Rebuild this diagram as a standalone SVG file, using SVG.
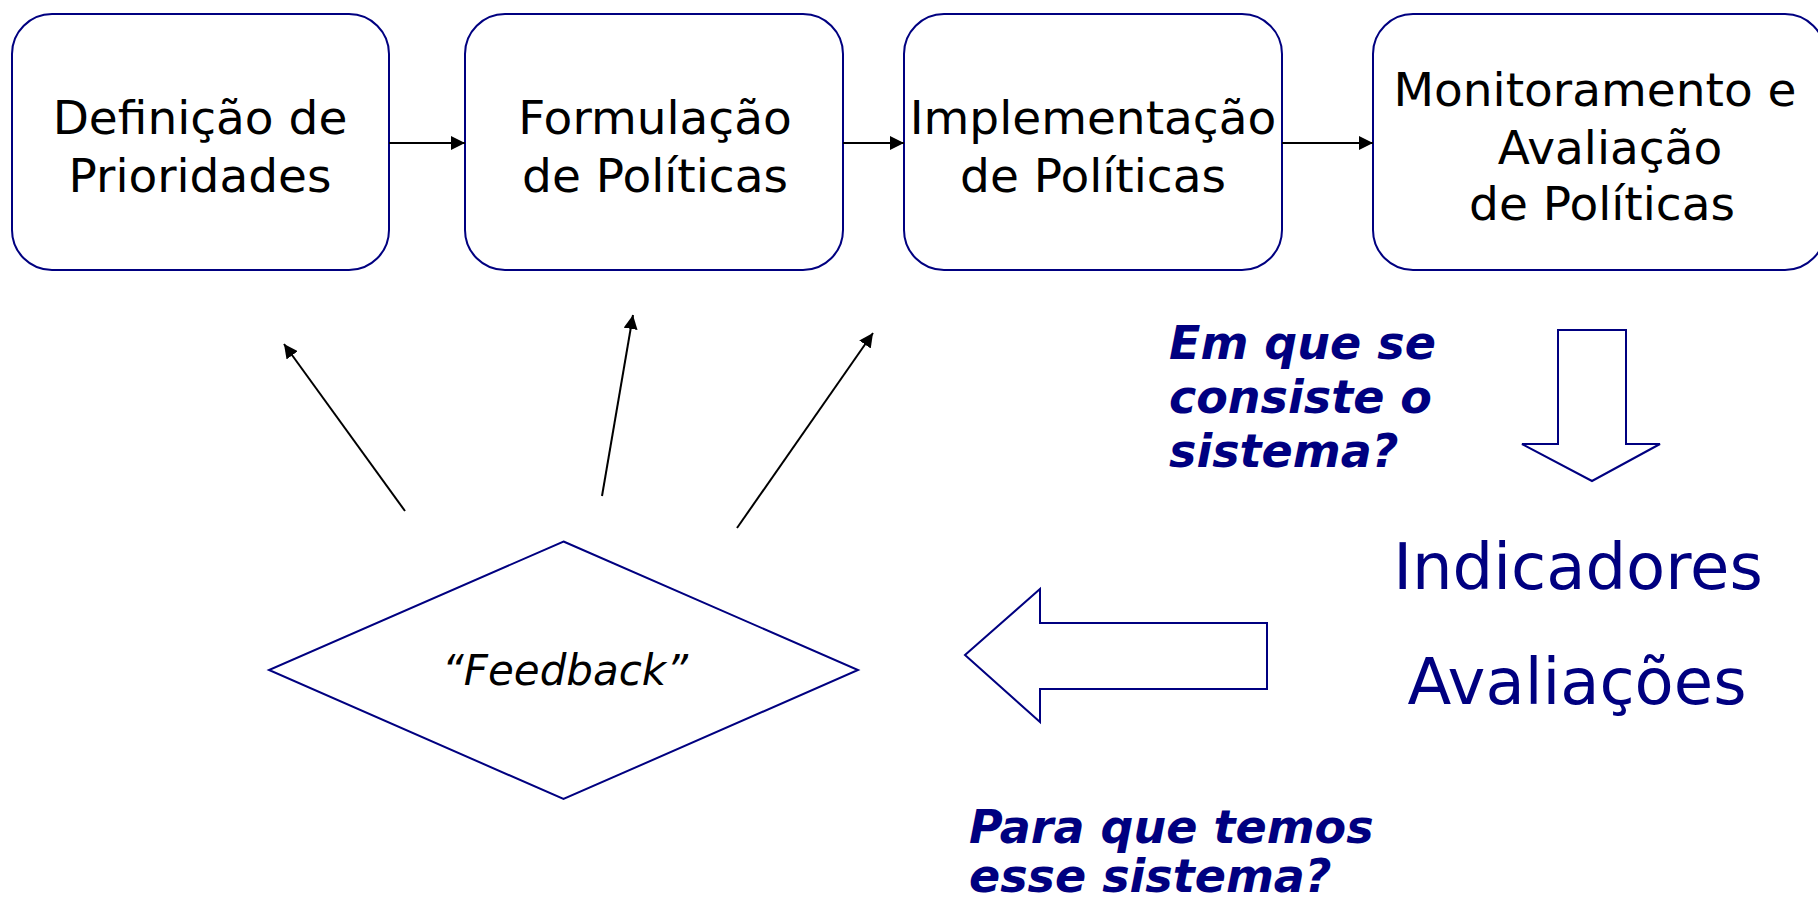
<svg xmlns="http://www.w3.org/2000/svg" width="1818" height="901" viewBox="0 0 1818 901">
<style>
.box{fill:#fff;stroke:#000080;stroke-width:2}
.shape{fill:#fff;stroke:#000080;stroke-width:2}
.lbl{font-family:"DejaVu Sans",Verdana,sans-serif;font-size:47px;fill:#000;text-anchor:middle}
.big{font-family:"DejaVu Sans",Verdana,sans-serif;font-size:64px;fill:#000080;text-anchor:middle}
.q{font-family:"DejaVu Sans",Verdana,sans-serif;font-size:46px;font-weight:bold;font-style:italic;fill:#000080}
.fb{font-family:"DejaVu Sans",Verdana,sans-serif;font-size:42px;font-style:italic;fill:#000;text-anchor:middle}
.conn{stroke:#000;stroke-width:2;fill:none;marker-end:url(#ah)}
</style>
<defs>
<marker id="ah" viewBox="0 0 10 10" refX="10" refY="5" markerWidth="7" markerHeight="7" markerUnits="strokeWidth" orient="auto">
<path d="M0,0 L10,5 L0,10 z" fill="#000"/>
</marker>
</defs>
<rect width="1818" height="901" fill="#fff"/>
<g id="n1">
<rect class="box" x="12" y="14" width="377" height="256" rx="40"/>
<text class="lbl" x="200" y="134">Definição de</text>
<text class="lbl" x="200" y="192">Prioridades</text>
</g>
<g id="n2">
<rect class="box" x="465" y="14" width="378" height="256" rx="40"/>
<text class="lbl" x="655" y="134">Formulação</text>
<text class="lbl" x="655" y="192">de Políticas</text>
</g>
<g id="n3">
<rect class="box" x="904" y="14" width="378" height="256" rx="40"/>
<text class="lbl" x="1093" y="134">Implementação</text>
<text class="lbl" x="1093" y="192">de Políticas</text>
</g>
<g id="n4">
<rect class="box" x="1373" y="14" width="452" height="256" rx="40"/>
<text class="lbl" x="1595" y="106">Monitoramento e</text>
<text class="lbl" x="1610" y="164">Avaliação</text>
<text class="lbl" x="1602" y="220">de Políticas</text>
</g>
<g id="feedback">
<polygon class="shape" points="563.5,541.5 858,670 563.5,799 269,670"/>
<text class="fb" x="565" y="685">“Feedback”</text>
</g>
<g id="indicadores">
<text class="big" x="1578" y="589">Indicadores</text>
</g>
<g id="avaliacoes">
<text class="big" x="1577" y="704">Avaliações</text>
</g>
<g id="q1">
<text class="q" x="1169" y="359">Em que se</text>
<text class="q" x="1169" y="413">consiste o</text>
<text class="q" x="1169" y="467">sistema?</text>
</g>
<g id="q2">
<text class="q" x="969" y="843">Para que temos</text>
<text class="q" x="969" y="892">esse sistema?</text>
</g>
<g id="connectors">
<line class="conn" x1="389" y1="143" x2="465" y2="143"/>
<line class="conn" x1="843" y1="143" x2="904" y2="143"/>
<line class="conn" x1="1282" y1="143" x2="1373" y2="143"/>
<line class="conn" x1="405" y1="511" x2="284" y2="344"/>
<line class="conn" x1="602" y1="496" x2="633" y2="315"/>
<line class="conn" x1="737" y1="528" x2="873" y2="333"/>
<polygon class="shape" points="1558,330 1626,330 1626,444 1660,444 1592,481 1522,444 1558,444"/>
<polygon class="shape" points="965,655 1040,589 1040,623 1267,623 1267,689 1040,689 1040,722"/>
</g>
</svg>
